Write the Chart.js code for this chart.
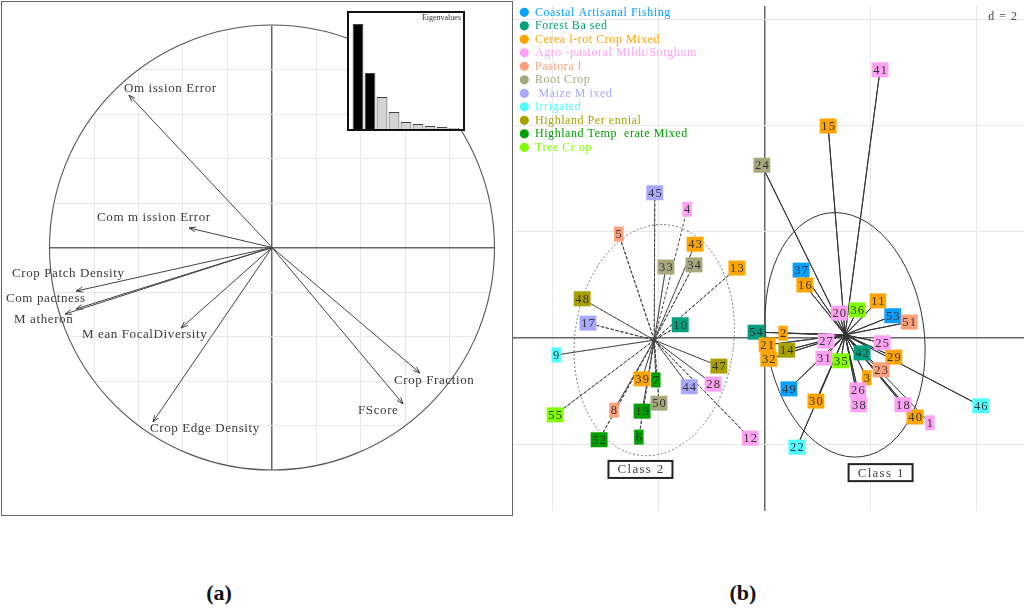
<!DOCTYPE html>
<html>
<head>
<meta charset="utf-8">
<script src="https://cdn.jsdelivr.net/npm/chart.js@4.4.0/dist/chart.umd.min.js"></script>
<style>
  html, body { margin: 0; padding: 0; background: #fff; }
  #page { position: relative; width: 1024px; height: 608px; overflow: hidden; }
  #frameA { position: absolute; left: 1px; top: 1px; width: 510px; height: 513px; border: 1px solid #666; }
  #circleChart { position: absolute; left: 2px; top: 2px; }
  #eigenBox { position: absolute; left: 347px; top: 11px; width: 114px; height: 116px; border: 2px solid #111; background: #fff; }
  #eigenChart { position: absolute; left: 349px; top: 13px; }
  #siteChart { position: absolute; left: 513px; top: 0px; }
  .panelTag { position: absolute; top: 580px; width: 60px; text-align: center; font: bold 22px "Liberation Serif", serif; color: #111; }
</style>
</head>
<body>
<div id="page">
  <div id="frameA"></div>
  <canvas id="circleChart" width="510" height="513"></canvas>
  <div id="eigenBox"></div>
  <canvas id="eigenChart" width="114" height="116"></canvas>
  <canvas id="siteChart" width="511" height="520"></canvas>
  <div class="panelTag" style="left:189px;">(a)</div>
  <div class="panelTag" style="left:713px;">(b)</div>
</div>
<script>
'use strict';
/* ----------------------------------------------------------------------------------------------------DATA */
const varNames = ['Om ission Error', 'Com m ission Error', 'Crop Patch Density', 'Com pactness', 'M atheron',
  'M ean FocalDiversity', 'Crop Edge Density', 'Crop Fraction', 'FScore'];
const varX = [-0.643, -0.373, -0.881, -0.881, -0.930, -0.409, -0.535, 0.665, 0.589];
const varY = [0.685, 0.088, -0.196, -0.276, -0.299, -0.362, -0.784, -0.564, -0.703];
//correlation of each variable with axis 1 and 2

const varLabelDx = [-5, -92, -64, -70, -51, -99, -3, -26, -45];
const varLabelDy = [-7, -10, -18, -10, 6, 7, 7, 8, 7];
//where each label sits relative to its arrow tip, in pixels

const eigenLabels = ['1', '2', '3', '4', '5', '6', '7', '8', '9'];
const eigenValues = [4.14, 2.21, 1.26, 0.67, 0.28, 0.20, 0.12, 0.08, 0.04];

const typeNames = ['Coastal Artisanal Fishing', 'Forest Ba sed', 'Cerea l-rot Crop Mixed', 'Agro -pastoral Mildt/Sorghum',
  'Pastora l', 'Root Crop', ' Maize M ixed', 'Irrigated', 'Highland Per ennial', 'Highland Temp  erate Mixed', 'Tree Cr op'];
const typeColors = ['#0aa0ff', '#00a080', '#ffa500', '#ffa2f4', '#ffa07a', '#a8a880', '#a8a8ff', '#4dffff',
  '#a8a000', '#00a000', '#80ff00'];

const siteIds = [1, 2, 3, 4, 5, 6, 7, 8, 9, 10, 11, 12, 13, 14, 15, 16, 17, 18, 19, 20, 21, 22, 23, 24, 25, 26, 27, 28,
  29, 30, 31, 32, 33, 34, 35, 36, 37, 38, 39, 40, 41, 42, 43, 44, 45, 46, 47, 48, 49, 50, 51, 52, 53, 54, 55];
const siteX = [3.12, 0.35, 1.93, -1.46, -2.75, -2.37, -2.05, -2.84, -3.93, -1.59,
  2.14, -0.27, -0.52, 0.42, 1.20, 0.76, -3.33, 2.61, -2.31, 1.41,
  0.05, 0.61, 2.20, -0.05, 2.22, 1.76, 1.16, -0.97, 2.44, 0.97,
  1.12, 0.08, -1.86, -1.33, 1.44, 1.75, 0.69, 1.78, -2.31, 2.84,
  2.18, 1.84, -1.31, -1.42, -2.07, 4.08, -0.86, -3.44, 0.46, -1.99,
  2.73, -3.12, 2.42, -0.16, -3.95];
const siteY = [-1.60, 0.09, -0.75, 2.43, 1.96, -1.87, -0.79, -1.36, -0.32, 0.25,
  0.70, -1.89, 1.32, -0.23, 4.00, 1.00, 0.28, -1.26, -1.38, 0.47,
  -0.13, -2.06, -0.60, 3.26, -0.09, -0.98, -0.06, -0.87, -0.36, -1.19,
  -0.38, -0.40, 1.34, 1.38, -0.43, 0.53, 1.28, -1.26, -0.77, -1.49,
  5.06, -0.28, 1.77, -0.92, 2.74, -1.28, -0.53, 0.74, -0.96, -1.23,
  0.30, -1.92, 0.42, 0.11, -1.45];
const siteType = [3, 2, 2, 3, 4, 9, 9, 4, 7, 1, 2, 3, 2, 8, 2, 2, 6, 3, 9, 3, 2, 7, 4, 5, 3, 3, 3, 3,
  2, 2, 3, 2, 5, 5, 10, 10, 0, 3, 2, 2, 3, 1, 2, 6, 6, 7, 8, 8, 0, 5, 4, 9, 0, 1, 10];
const siteClass = [1, 1, 1, 2, 2, 2, 2, 2, 2, 2, 1, 2, 2, 1, 1, 1, 2, 1, 2, 1, 1, 1, 1, 1, 1, 1, 1, 2,
  1, 1, 1, 1, 2, 2, 1, 1, 1, 1, 2, 1, 1, 1, 2, 2, 2, 1, 2, 2, 1, 2, 1, 2, 1, 1, 2];

const classNames = ['Class 1', 'Class 2'];
const classCenterX = [1.52, -2.08];
const classCenterY = [0.06, -0.04];
const ellipseRx = [1.49, 1.50];
const ellipseRy = [2.32, 2.19];
const ellipseRot = [-8, 7];
const classLabelX = [2.19, -2.34];
const classLabelY = [-2.54, -2.48];
//class gravity centres, their ellipses and where the class names are boxed

/* ----------------------------------------------------------------------------------------------------PANEL A PLUGIN */
const circlePlugin = {
  id: 'circlePlugin',
  beforeDraw(chart) {
    const ctx = chart.ctx;
    const xs = chart.scales.x;
    const ys = chart.scales.y;
    const ox = xs.getPixelForValue(0);
    const oy = ys.getPixelForValue(0);
    const r = xs.getPixelForValue(1) - ox;
    ctx.save();
    ctx.beginPath();
    ctx.arc(ox, oy, r, 0, Math.PI * 2);
    ctx.clip();
  },
  //clip the grid to the unit circle; restored before the datasets
  beforeDatasetsDraw(chart) {
    const ctx = chart.ctx;
    ctx.restore();
    const xs = chart.scales.x;
    const ys = chart.scales.y;
    const ox = xs.getPixelForValue(0);
    const oy = ys.getPixelForValue(0);
    const r = xs.getPixelForValue(1) - ox;
    ctx.save();
    ctx.strokeStyle = '#555';
    ctx.lineWidth = 1.1;
    ctx.beginPath();
    ctx.arc(ox, oy, r, 0, Math.PI * 2);
    ctx.stroke();
    ctx.restore();
  },
  afterDatasetsDraw(chart) {
    const ctx = chart.ctx;
    const xs = chart.scales.x;
    const ys = chart.scales.y;
    const ox = xs.getPixelForValue(0);
    const oy = ys.getPixelForValue(0);
    const meta = chart.getDatasetMeta(0);
    ctx.save();
    ctx.strokeStyle = '#444';
    ctx.lineWidth = 1;
    meta.data.forEach((pt, i) => {
      const ang = Math.atan2(pt.y - oy, pt.x - ox);
      ctx.beginPath();
      ctx.moveTo(ox, oy);
      ctx.lineTo(pt.x, pt.y);
      ctx.moveTo(pt.x - 7 * Math.cos(ang - 0.35), pt.y - 7 * Math.sin(ang - 0.35));
      ctx.lineTo(pt.x, pt.y);
      ctx.lineTo(pt.x - 7 * Math.cos(ang + 0.35), pt.y - 7 * Math.sin(ang + 0.35));
      ctx.stroke();
    });
    ctx.fillStyle = '#3a3a3a';
    ctx.font = '13px "Liberation Serif"';
    ctx.letterSpacing = '0.6px';
    ctx.textBaseline = 'middle';
    ctx.textAlign = 'left';
    meta.data.forEach((pt, i) => {
      ctx.fillText(varNames[i], pt.x + varLabelDx[i], pt.y + varLabelDy[i]);
    });
    ctx.restore();
  }
};

/* ----------------------------------------------------------------------------------------------------PANEL B PLUGIN */
const sitePlugin = {
  id: 'sitePlugin',
  beforeDatasetsDraw(chart) {
    const ctx = chart.ctx;
    const xs = chart.scales.x;
    const ys = chart.scales.y;
    const unit = xs.getPixelForValue(1) - xs.getPixelForValue(0);
    ctx.save();
    for (let c = 0; c < classNames.length; c++) {
      ctx.beginPath();
      ctx.setLineDash(c === 1 ? [2, 2] : []);
      ctx.strokeStyle = c === 1 ? '#777' : '#333';
      ctx.lineWidth = 1;
      ctx.ellipse(xs.getPixelForValue(classCenterX[c]), ys.getPixelForValue(classCenterY[c]),
        ellipseRx[c] * unit, ellipseRy[c] * unit, ellipseRot[c] * Math.PI / 180, 0, Math.PI * 2);
      ctx.stroke();
    }
    ctx.restore();
  },
  afterDatasetsDraw(chart) {
    const ctx = chart.ctx;
    ctx.save();
    ctx.font = '12.5px "Liberation Serif"';
    ctx.letterSpacing = '1.2px';
    ctx.textAlign = 'center';
    ctx.textBaseline = 'middle';
    chart.data.datasets.forEach((ds, i) => {
      if (!ds.siteIds) {
        return;
      }
      const meta = chart.getDatasetMeta(i);
      meta.data.forEach((pt, j) => {
        const label = String(ds.siteIds[j]);
        const w = ctx.measureText(label).width + 2;
        ctx.fillStyle = ds.boxColor;
        ctx.fillRect(pt.x - w / 2, pt.y - 7.5, w, 15);
        ctx.fillStyle = '#333';
        ctx.fillText(label, pt.x + 0.6, pt.y + 0.5);
      });
    });
    ctx.restore();
  },
  //number boxes drawn over the spokes
  afterDraw(chart) {
    const ctx = chart.ctx;
    const xs = chart.scales.x;
    const ys = chart.scales.y;
    ctx.save();
    ctx.textBaseline = 'middle';
    ctx.font = '12px "Liberation Serif"';
    ctx.letterSpacing = '0.55px';
    typeNames.forEach((name, i) => {
      const yy = 12.3 + i * 13.5;
      ctx.fillStyle = typeColors[i];
      ctx.beginPath();
      ctx.arc(11.3, yy, 4.6, 0, Math.PI * 2);
      ctx.fill();
      ctx.fillText(name, 22, yy + 0.5);
    });
    ctx.fillStyle = '#444';
    ctx.textAlign = 'right';
    ctx.letterSpacing = '1px';
    ctx.fillText('d = 2', 505, 17);
    ctx.font = '13px "Liberation Serif"';
    ctx.letterSpacing = '1.3px';
    ctx.textAlign = 'center';
    classNames.forEach((name, c) => {
      const cx = xs.getPixelForValue(classLabelX[c]);
      const cy = ys.getPixelForValue(classLabelY[c]);
      ctx.fillStyle = '#fff';
      ctx.fillRect(cx - 32, cy - 8.5, 64, 17);
      ctx.strokeStyle = '#222';
      ctx.lineWidth = 2;
      ctx.strokeRect(cx - 32, cy - 8.5, 64, 17);
      ctx.fillStyle = '#444';
      ctx.fillText(name, cx + 0.6, cy + 0.5);
    });
    ctx.restore();
  }
};

const eigenTitlePlugin = {
  id: 'eigenTitlePlugin',
  afterDraw(chart) {
    const ctx = chart.ctx;
    ctx.save();
    ctx.font = '8px "Liberation Serif"';
    ctx.fillStyle = '#333';
    ctx.textAlign = 'right';
    ctx.textBaseline = 'middle';
    ctx.fillText('Eigenvalues', 112, 5);
    ctx.restore();
  }
};

/* ----------------------------------------------------------------------------------------------------HELPERS */
function axisColor(c) {
  return c.tick && c.tick.value === 0 ? '#666' : '#e8e8e8';
}
function axisWidth(c) {
  return c.tick && c.tick.value === 0 ? 1.5 : 1;
}
function gridScale(min, max, step) {
  return {
    type: 'linear',
    min: min,
    max: max,
    ticks: { display: false, stepSize: step, includeBounds: false },
    grid: { drawTicks: false, color: axisColor, lineWidth: axisWidth },
    border: { display: false }
  };
}

/* ----------------------------------------------------------------------------------------------------CHARTS */
const circleChart = new Chart(document.getElementById('circleChart'), {
  type: 'scatter',
  data: {
    datasets: [{
      data: varX.map((x, i) => ({ x: x, y: varY[i] })),
      pointRadius: 0
    }]
  },
  options: {
    responsive: false,
    animation: false,
    events: [],
    layout: { padding: 0 },
    scales: {
      x: gridScale(-1.2135, 1.0787, 0.2),
      y: gridScale(-1.2022, 1.1034, 0.2)
    },
    plugins: { legend: { display: false }, tooltip: { enabled: false } }
  },
  plugins: [circlePlugin]
});

const eigenChart = new Chart(document.getElementById('eigenChart'), {
  type: 'bar',
  data: {
    labels: eigenLabels,
    datasets: [{
      data: eigenValues,
      backgroundColor: eigenValues.map((v, i) => (i < 2 ? '#000' : '#d4d4d4')),
      borderColor: '#444',
      borderWidth: 1,
      barPercentage: 0.9,
      categoryPercentage: 1
    }]
  },
  options: {
    responsive: false,
    animation: false,
    events: [],
    layout: { padding: { left: 3, right: 3, top: 0, bottom: 0 } },
    scales: {
      x: { display: false },
      y: { display: false, min: 0, max: 4.57 }
    },
    plugins: { legend: { display: false }, tooltip: { enabled: false } }
  },
  plugins: [eigenTitlePlugin]
});

const siteDatasets = [];
classNames.forEach((name, c) => {
  const spokes = [];
  siteIds.forEach((id, i) => {
    if (siteClass[i] === c + 1) {
      spokes.push({ x: siteX[i], y: siteY[i] });
      spokes.push({ x: classCenterX[c], y: classCenterY[c] });
    }
  });
  siteDatasets.push({
    data: spokes,
    showLine: true,
    pointRadius: 0,
    borderColor: c === 1 ? '#444' : '#333',
    borderWidth: 1,
    borderDash: c === 1 ? [3, 2] : [],
    tension: 0
  });
});
//spokes from every site to its class centre: site, centre, site, centre ...

typeNames.forEach((name, t) => {
  const pts = [];
  const ids = [];
  siteIds.forEach((id, i) => {
    if (siteType[i] === t) {
      pts.push({ x: siteX[i], y: siteY[i] });
      ids.push(id);
    }
  });
  siteDatasets.push({
    data: pts,
    siteIds: ids,
    boxColor: typeColors[t],
    pointRadius: 0
  });
});

const siteChart = new Chart(document.getElementById('siteChart'), {
  type: 'scatter',
  data: { datasets: siteDatasets },
  options: {
    responsive: false,
    animation: false,
    events: [],
    layout: { padding: { top: 6, bottom: 9, left: 0, right: 0 } },
    scales: {
      x: gridScale(-4.745, 4.896, 2),
      y: gridScale(-3.264, 6.264, 2)
    },
    plugins: { legend: { display: false }, tooltip: { enabled: false } }
  },
  plugins: [sitePlugin]
});
</script>
</body>
</html>
